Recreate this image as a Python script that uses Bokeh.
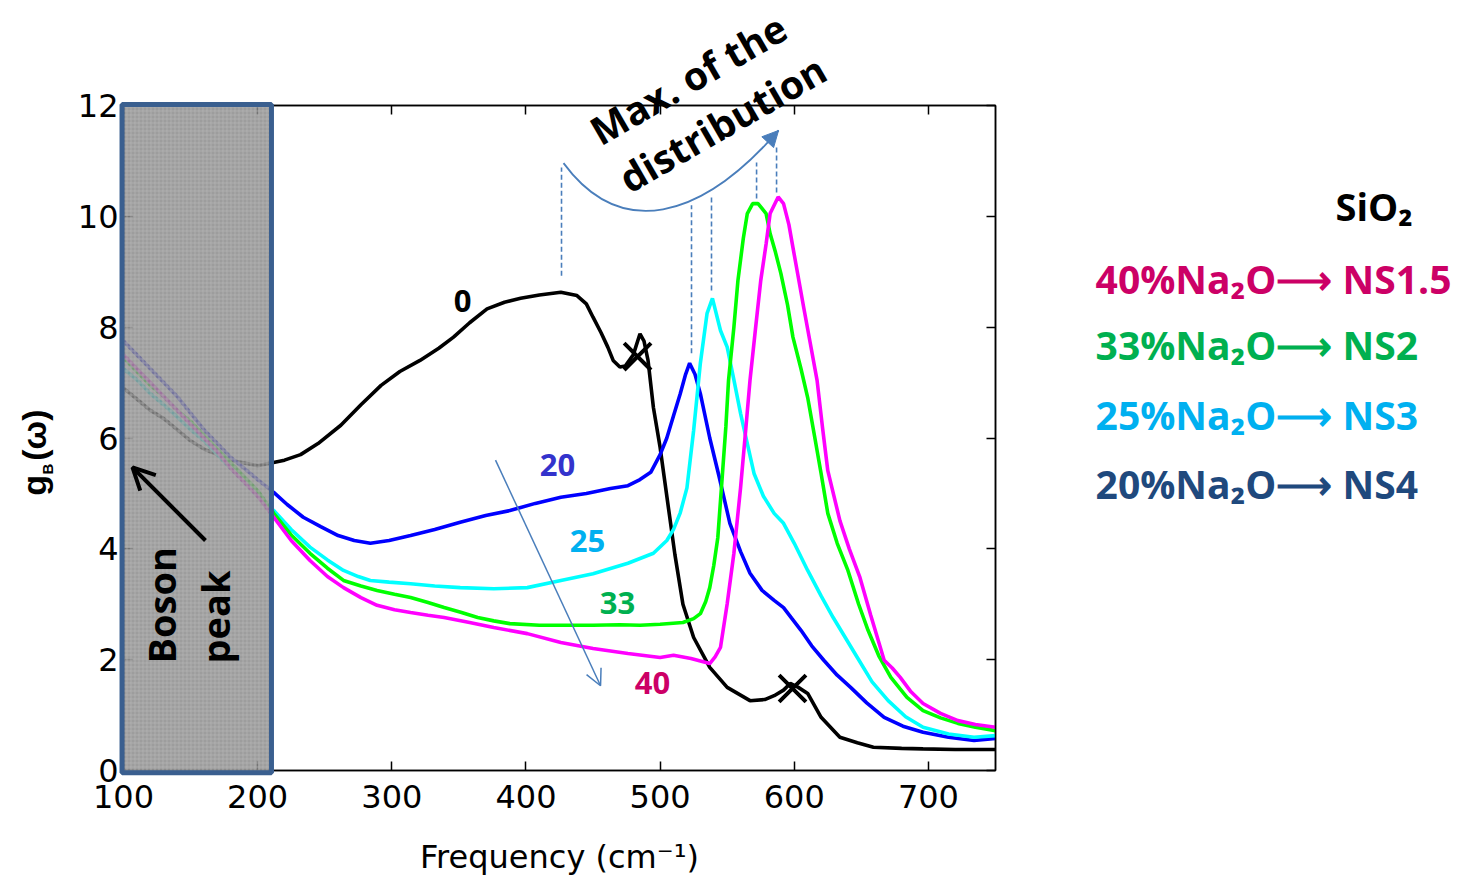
import math
from bokeh.plotting import figure
from bokeh.models import (Range1d, LinearAxis, Label, Arrow, OpenHead, NormalHead, GridBox, Column,
                          BoxAnnotation, FixedTicker, CustomJSTickFormatter, ColumnDataSource)
from bokeh.core.properties import value
from bokeh.embed import file_html
from bokeh.resources import INLINE

# ---------------- data ----------------
x_ticks = [100, 200, 300, 400, 500, 600, 700]
y_ticks = [0, 2, 4, 6, 8, 10, 12]

x_sio2 = [100, 110, 120, 130, 140, 150, 160, 170, 180, 190, 200, 210, 220, 232, 245, 262, 277, 292,
          306, 321, 335, 346, 358, 371, 384, 396, 410, 426, 438, 445, 450, 456, 461, 465, 470, 474,
          480, 485, 488, 491, 495, 500, 503, 507, 511, 517, 525, 537, 550, 567, 578, 585, 592, 597,
          603, 610, 620, 634, 647, 659, 680, 696, 720, 750]
y_sio2 = [6.9, 6.7, 6.5, 6.35, 6.15, 5.95, 5.8, 5.7, 5.6, 5.55, 5.5, 5.55, 5.6, 5.7, 5.9, 6.23, 6.6, 6.95,
          7.2, 7.4, 7.62, 7.82, 8.08, 8.33, 8.45, 8.52, 8.58, 8.63, 8.57, 8.42, 8.18, 7.9, 7.64, 7.4, 7.28, 7.3,
          7.5, 7.88, 7.75, 7.4, 6.55, 5.83, 5.3, 4.6, 3.9, 3.0, 2.4, 1.86, 1.5, 1.26, 1.28, 1.35, 1.45, 1.57,
          1.5, 1.39, 0.96, 0.6, 0.5, 0.42, 0.4, 0.39, 0.38, 0.38]

x_ns4 = [100, 110, 120, 130, 140, 150, 160, 170, 180, 190, 200, 212, 222, 234, 247, 260, 272, 284, 298,
         314, 332, 351, 370, 388, 407, 426, 445, 463, 476, 485, 493, 500, 505, 510, 515, 519, 522, 526,
         530, 537, 544, 552, 560, 567, 576, 585, 592, 598, 605, 613, 622, 632, 642, 654, 667, 681, 696,
         715, 734, 750]
y_ns4 = [7.75, 7.5, 7.25, 7.0, 6.75, 6.45, 6.15, 5.9, 5.65, 5.45, 5.25, 5.02, 4.8, 4.57, 4.4, 4.24, 4.15,
         4.1, 4.15, 4.24, 4.35, 4.48, 4.6, 4.69, 4.82, 4.93, 5.0, 5.09, 5.14, 5.25, 5.38, 5.7, 6.0, 6.4, 6.8,
         7.15, 7.35, 7.15, 6.8, 6.0, 5.3, 4.46, 3.95, 3.56, 3.25, 3.07, 2.94, 2.75, 2.53, 2.25, 1.99, 1.72,
         1.5, 1.22, 0.96, 0.8, 0.69, 0.6, 0.54, 0.58]

x_ns3 = [100, 110, 120, 130, 140, 150, 160, 170, 180, 190, 200, 212, 225, 239, 252, 264, 275, 284, 298,
         314, 332, 351, 376, 401, 426, 450, 476, 495, 505, 510, 515, 520, 525, 530, 535, 539, 545, 550,
         555, 560, 565, 570, 577, 585, 592, 600, 610, 620, 629, 638, 647, 658, 670, 683, 696, 715, 734, 750]
y_ns3 = [7.25, 7.05, 6.8, 6.6, 6.38, 6.15, 5.95, 5.7, 5.45, 5.2, 4.95, 4.69, 4.35, 4.03, 3.8, 3.61, 3.5,
         3.43, 3.4, 3.37, 3.33, 3.3, 3.28, 3.3, 3.43, 3.55, 3.74, 3.92, 4.15, 4.35, 4.65, 5.1, 6.14, 7.35,
         8.25, 8.52, 7.94, 7.64, 7.05, 6.44, 5.9, 5.36, 4.95, 4.64, 4.46, 4.1, 3.61, 3.15, 2.76, 2.4, 2.04,
         1.6, 1.26, 0.97, 0.78, 0.66, 0.6, 0.63]

x_ns2 = [100, 110, 120, 130, 140, 150, 160, 170, 180, 190, 200, 212, 225, 239, 252, 264, 277, 289, 302,
         314, 327, 339, 352, 364, 376, 388, 410, 426, 450, 470, 485, 500, 517, 525, 530, 534, 537, 540,
         543, 546, 549, 551, 555, 558, 562, 565, 569, 573, 579, 582, 586, 590, 595, 599, 605, 610, 615,
         620, 625, 632, 640, 648, 655, 663, 672, 684, 696, 709, 722, 735, 750]
y_ns2 = [7.45, 7.2, 6.95, 6.75, 6.5, 6.3, 6.05, 5.8, 5.55, 5.3, 5.05, 4.64, 4.25, 3.92, 3.65, 3.43, 3.33,
         3.25, 3.18, 3.12, 3.03, 2.94, 2.85, 2.76, 2.7, 2.65, 2.62, 2.62, 2.62, 2.63, 2.62, 2.64, 2.67,
         2.74, 2.83, 3.05, 3.3, 3.7, 4.2, 5.2, 6.2, 7.04, 8.0, 8.84, 9.6, 10.05, 10.23, 10.23, 10.05, 9.69,
         9.35, 8.97, 8.4, 7.82, 7.25, 6.73, 6.05, 5.36, 4.64, 4.1, 3.61, 3.0, 2.53, 2.07, 1.68, 1.32, 1.08,
         0.95, 0.85, 0.78, 0.72]

x_ns15 = [100, 110, 120, 130, 140, 150, 160, 170, 180, 190, 200, 212, 225, 239, 252, 264, 277, 289, 302,
          314, 327, 339, 358, 376, 401, 426, 450, 476, 500, 510, 523, 537, 541, 545, 550, 555, 560, 564,
          567, 571, 575, 579, 582, 588, 592, 596, 599, 603, 607, 612, 617, 621, 625, 634, 641, 649, 657,
          667, 673, 679, 687, 696, 709, 722, 735, 750]
y_ns15 = [7.5, 7.25, 7.0, 6.75, 6.5, 6.25, 6.0, 5.75, 5.45, 5.2, 4.95, 4.57, 4.15, 3.79, 3.5, 3.3, 3.12,
          2.98, 2.9, 2.85, 2.8, 2.76, 2.67, 2.58, 2.47, 2.31, 2.2, 2.11, 2.04, 2.08, 2.02, 1.93, 2.05, 2.22,
          3.01, 3.92, 5.11, 6.2, 7.04, 7.95, 8.84, 9.5, 10.05, 10.35, 10.23, 9.85, 9.44, 8.9, 8.36, 7.7,
          7.04, 6.2, 5.41, 4.51, 4.0, 3.48, 2.8, 1.99, 1.85, 1.68, 1.42, 1.21, 1.03, 0.9, 0.83, 0.78]

series_colors = ["black", "#0000ff", "#00ffff", "#00ff00", "#ff00ff"]

# curve number labels
lbl_text = ["0", "20", "25", "33", "40"]
lbl_x = [352.7, 423.5, 445.9, 468.2, 494.3]
lbl_y = [8.48, 5.51, 4.15, 3.03, 1.57]
lbl_color = ["black", "#3333cc", "#00b0f0", "#00b050", "#cc0066"]

# crossed-out peaks
cross_x = [483.2, 598.7]
cross_y = [7.47, 1.48]

# dashed markers of the distribution maxima
dash_x = [426.5, 523.4, 538.3, 571.9, 586.8]
dash_top = [10.88, 10.2, 10.38, 10.97, 11.25]
dash_bot = [8.93, 7.53, 8.66, 10.32, 10.43]

# legend texts
legend_text = ["40%Na\u2082O\u27f6 NS1.5", "33%Na\u2082O\u27f6 NS2",
               "25%Na\u2082O\u27f6 NS3", "20%Na\u2082O\u27f6 NS4"]
legend_color = ["#cc0066", "#00b050", "#00b0f0", "#1f497d"]
legend_y = [8.88, 7.69, 6.42, 5.17]

ARROW_BLUE = "#4a7ebb"
W, H = 1459, 878
BL, BR, BT, BB = 123, 464, 105, 108   # borders around the plot frame
X0, X1, Y0, Y1 = 100, 750, 0, 12

# ---------------- main figure (axes, curves) ----------------
p = figure(width=W, height=H, x_range=Range1d(X0, X1), y_range=Range1d(Y0, Y1),
           output_backend="svg", toolbar_location=None,
           min_border_left=BL, min_border_right=BR, min_border_top=BT, min_border_bottom=BB)
p.grid.visible = False
p.outline_line_color = "black"
p.outline_line_width = 1.5
p.background_fill_color = "white"
p.border_fill_color = "white"


def style_axis(ax, ticks):
    ax.ticker = FixedTicker(ticks=ticks)
    ax.major_tick_in = 9
    ax.major_tick_out = 0
    ax.minor_tick_in = 0
    ax.minor_tick_out = 0
    ax.axis_line_width = 1.5
    ax.axis_line_color = "black"
    ax.major_tick_line_width = 1.5
    ax.major_tick_line_color = "black"
    ax.major_label_text_font = "DejaVu Sans"
    ax.major_label_text_font_size = "32px"
    ax.major_label_text_color = "black"


style_axis(p.xaxis[0], x_ticks)
style_axis(p.yaxis[0], y_ticks)
p.xaxis.major_label_standoff = 14
p.yaxis.major_label_standoff = 5
p.xaxis.axis_label = "Frequency (cm\u207b\u00b9)"
p.xaxis.axis_label_text_font = "DejaVu Sans"
p.xaxis.axis_label_text_font_style = "normal"
p.xaxis.axis_label_text_font_size = "32px"
p.xaxis.axis_label_text_color = "black"
p.xaxis.axis_label_standoff = 27

top_ax = LinearAxis(formatter=CustomJSTickFormatter(code="return ''"))
style_axis(top_ax, x_ticks)
p.add_layout(top_ax, "above")
right_ax = LinearAxis(formatter=CustomJSTickFormatter(code="return ''"))
style_axis(right_ax, y_ticks)
p.add_layout(right_ax, "right")

for xs, ys, c in zip([x_sio2, x_ns4, x_ns3, x_ns2, x_ns15],
                     [y_sio2, y_ns4, y_ns3, y_ns2, y_ns15], series_colors):
    p.line(xs, ys, line_color=c, line_width=3.6)

p.scatter(cross_x, cross_y, marker="x", size=38, line_color="black", line_width=4)

p.segment(x0=dash_x, y0=dash_bot, x1=dash_x, y1=dash_top, line_color=ARROW_BLUE,
          line_width=1.6, line_dash="5 3")

p.bezier(x0=[428.0], y0=[10.96], x1=[588.3], y1=[11.55], cx0=[470.4], cy0=[9.57],
         cx1=[530.0], cy1=[9.93], line_color=ARROW_BLUE, line_width=1.8)
p.add_layout(Arrow(end=NormalHead(size=16, fill_color=ARROW_BLUE, line_color=ARROW_BLUE),
                   x_start=582.2, y_start=11.39, x_end=588.3, y_end=11.55,
                   line_color=ARROW_BLUE, line_width=1.8))

p.add_layout(Arrow(end=OpenHead(size=16, line_color=ARROW_BLUE, line_width=1.5),
                   x_start=377.3, y_start=5.6, x_end=455.6, y_end=1.53,
                   line_color=ARROW_BLUE, line_width=1.5))

src = ColumnDataSource(dict(x=lbl_x, y=lbl_y, t=lbl_text, c=lbl_color))
p.text(x="x", y="y", text="t", text_color="c", source=src, text_font=value("Open Sans"),
       text_font_style="bold", text_font_size="31px", text_align="center", text_baseline="middle")

# ---------------- overlay figure (annotations outside the frame) ----------------
kx = (W - BL - BR) / (X1 - X0)
ky = (H - BT - BB) / (Y1 - Y0)
q = figure(width=W, height=H,
           x_range=Range1d(X0 - BL / kx, X1 + BR / kx),
           y_range=Range1d(Y0 - BB / ky, Y1 + BT / ky),
           output_backend="svg", toolbar_location=None,
           min_border_left=0, min_border_right=0, min_border_top=0, min_border_bottom=0,
           x_axis_location=None, y_axis_location=None)
q.grid.visible = False
q.outline_line_color = None
q.background_fill_color = None
q.border_fill_color = None


def lab(fig, x, y, text, size, color="black", angle=0.0, font="Open Sans", align="left"):
    fig.add_layout(Label(x=x, y=y, text=text, angle=angle, text_font=font, text_font_style="bold",
                         text_font_size=size, text_color=color, text_align=align,
                         text_baseline="middle"))


q.add_layout(BoxAnnotation(left=98.9, right=210.3, bottom=-0.04, top=12.02,
                           fill_color="#8a8a8a", fill_alpha=0.84,
                           hatch_pattern="+", hatch_color="#b8b8b8", hatch_alpha=0.6,
                           hatch_scale=4, hatch_weight=1,
                           line_color="#3a5f8f", line_alpha=1.0, line_width=5))
q.add_layout(Arrow(end=OpenHead(size=22, line_color="black", line_width=4),
                   x_start=161.1, y_start=4.15, x_end=106.7, y_end=5.47,
                   line_color="black", line_width=4))
lab(q, 127.6, 1.93, "Boson", "38px", angle=math.pi / 2)
lab(q, 168.0, 1.93, "peak", "38px", angle=math.pi / 2)

ang = math.radians(30)
lab(q, 450.0, 11.50, "Max. of the", "39px", angle=ang)
lab(q, 471.5, 10.64, "distribution", "39px", angle=ang)

lab(q, 33.2, 4.96, "g", "34px", angle=math.pi / 2, font="Liberation Sans")
lab(q, 43.5, 5.34, "B", "15px", angle=math.pi / 2, font="Liberation Sans")
lab(q, 33.2, 5.59, "(\u03c9)", "34px", angle=math.pi / 2, font="Liberation Sans")

lab(q, 1003.5, 10.18, "SiO\u2082", "38px")
for t, c, yy in zip(legend_text, legend_color, legend_y):
    lab(q, 824.6, yy, t, "39px", color=c)

layout = GridBox(children=[(p, 0, 0), (Column(children=[q]), 0, 0)])
open("out.html", "w").write(file_html(layout, INLINE))
